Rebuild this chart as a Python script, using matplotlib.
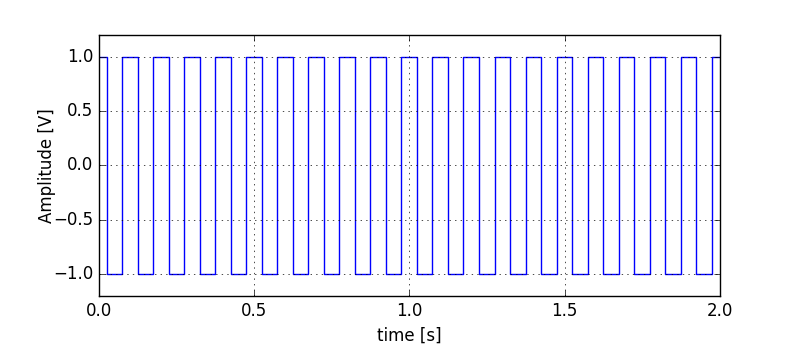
import numpy as np
import matplotlib
matplotlib.use('Agg')
import matplotlib.pyplot as plt

# square wave edge times (seconds)
falling_edges = [0.024, 0.124, 0.224, 0.324, 0.424, 0.524, 0.624, 0.724, 0.824, 0.924,
                 1.024, 1.124, 1.224, 1.324, 1.424, 1.524, 1.624, 1.724, 1.824, 1.924]
rising_edges = [0.074, 0.174, 0.274, 0.374, 0.474, 0.574, 0.674, 0.774, 0.874, 0.974,
                1.074, 1.174, 1.274, 1.374, 1.474, 1.574, 1.674, 1.774, 1.874, 1.974]
t_start, t_end = 0.0, 2.0
high, low = 1.0, -1.0

# build the step trace from the edges
edges = sorted([(t, low) for t in falling_edges] + [(t, high) for t in rising_edges])
t = [t_start]
y = [high]
for te, level in edges:
    t += [te, te]
    y += [y[-1], level]
t.append(t_end)
y.append(y[-1])

plt.style.use('classic')
plt.rcParams['lines.scale_dashes'] = False
fig = plt.figure(figsize=(7.99, 3.57), dpi=100, facecolor='white')
ax = fig.add_axes([0.124, 0.171, 0.777, 0.731])
ax.plot(t, y, color='b', linewidth=1)
ax.set_xlim(0, 2.0)
ax.set_ylim(-1.2, 1.2)
ax.set_xticks([0.0, 0.5, 1.0, 1.5, 2.0])
ax.set_yticks([-1.0, -0.5, 0.0, 0.5, 1.0])
ax.set_xlabel('time [s]')
ax.set_ylabel('Amplitude [V]', labelpad=-2)
ax.grid(True, color='k', linewidth=0.5, linestyle=(0, (1, 3)))
fig.savefig('out.png', dpi=100, facecolor='white')
